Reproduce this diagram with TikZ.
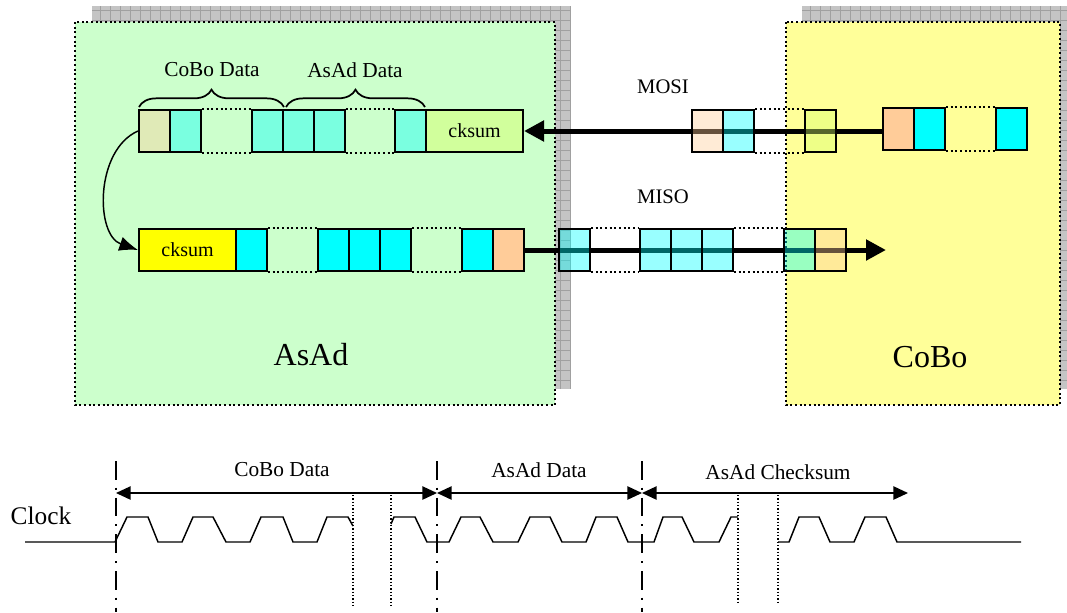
\documentclass[tikz,border=0pt]{standalone}
\usepackage{fontspec}
\setmainfont{Liberation Serif}
\usetikzlibrary{arrows.meta,decorations.pathreplacing}

\definecolor{boxgreen}{RGB}{204,255,204}
\definecolor{boxyellow}{RGB}{255,255,153}
\definecolor{shadowgray}{RGB}{196,196,196}
\definecolor{gridgray}{RGB}{160,160,160}
\definecolor{peach}{RGB}{255,204,153}
\definecolor{aqua}{RGB}{0,255,255}
\definecolor{sumyellow}{RGB}{255,255,0}
\definecolor{lime}{RGB}{214,255,110}

\tikzset{every picture/.style={line width=0.75pt}}
\tikzset{
  cell/.style={draw, line width=1.5pt, inner sep=0pt, minimum width=23.25pt, minimum height=31.5pt},
  wide/.style={cell, minimum width=72.75pt, font=\fontsize{15}{18}\selectfont},
  ghost/.style={cell, fill opacity=0.4, text opacity=1},
  gapline/.style={dotted, line width=1.5pt},
  bus/.style={line width=3.75pt, -{Triangle[length=15pt,width=15pt]}},
  span/.style={line width=1.1pt, {Triangle[length=11pt,width=10pt]}-{Triangle[length=11pt,width=10pt]}},
  markline/.style={line width=1.1pt, dash pattern=on 14pt off 6pt on 1.5pt off 6pt},
  cutline/.style={line width=0.9pt, dash pattern=on 1pt off 1.5pt},
  brace/.style={decorate, decoration={brace, amplitude=13pt}, line width=1.3pt},
  lbl/.style={inner sep=0.75pt, font=\fontsize{16}{19}\selectfont},
  big/.style={inner sep=0.75pt, font=\fontsize{24}{28}\selectfont}
}

\begin{document}
\begin{tikzpicture}[x=0.75pt,y=0.75pt,yscale=-1,xscale=1]
\useasboundingbox (0,0) rectangle (1067,612);
%Shape: Rectangle [shadow of AsAd]
\fill [shadowgray] (92,6) rectangle (571,389);
\begin{scope}
\clip (92,6) rectangle (571,389);
\draw [gridgray, line width=0.5pt, step=7.5pt] (92,6) grid (571,389);
\end{scope}
%Shape: Rectangle [shadow of CoBo]
\fill [shadowgray] (802,6) rectangle (1076,389);
\begin{scope}
\clip (802,6) rectangle (1076,389);
\draw [gridgray, line width=0.5pt, step=7.5pt] (802,6) grid (1076,389);
\end{scope}
%Shape: Rectangle [AsAd]
\draw [fill=boxgreen, dotted, line width=1.5pt] (75,22) rectangle (555,405);
%Shape: Rectangle [CoBo]
\draw [fill=boxyellow, dotted, line width=1.5pt] (786,22) rectangle (1060,405);

% Text Node
\node (asadname) [big] at (311,355) {AsAd};
% Text Node
\node (coboname) [big] at (930,357) {CoBo};
% Text Node
\node (mosi) [lbl, font=\fontsize{15.5}{18}\selectfont] at (663,87) {MOSI};
% Text Node
\node (miso) [lbl, font=\fontsize{15.5}{18}\selectfont] at (663,197) {MISO};
% Text Node
\node (cobodata) [lbl] at (212,70) {CoBo Data};
% Text Node
\node (asaddata) [lbl] at (355,70) {AsAd Data};

%Braces
\draw [brace] (139,107) -- (284,107);
\draw [brace] (286,107) -- (425,107);

%AsAd receive row
\node (t1) [ghost, fill=peach] at (154.5,131) {};
\node (t2) [ghost, fill=aqua] at (185.5,131) {};
\node (t3) [ghost, fill=aqua] at (267,131) {};
\node (t4) [ghost, fill=aqua] at (298,131) {};
\node (t5) [ghost, fill=aqua] at (329,131) {};
\node (t6) [ghost, fill=aqua] at (410.5,131) {};
\node (tck) [wide, fill=lime, fill opacity=0.5, text opacity=1] at (474.5,131) {cksum};
\draw [gapline] (t2.north east) -- (t3.north west);
\draw [gapline] (t2.south east) -- (t3.south west);
\draw [gapline] (t5.north east) -- (t6.north west);
\draw [gapline] (t5.south east) -- (t6.south west);

%AsAd send row
\node (bck) [wide, fill=sumyellow] at (187.5,250) {cksum};
\node (b2) [cell, fill=aqua] at (251.5,250) {};
\node (b3) [cell, fill=aqua] at (333.5,250) {};
\node (b4) [cell, fill=aqua] at (364.5,250) {};
\node (b5) [cell, fill=aqua] at (395.5,250) {};
\node (b6) [cell, fill=aqua] at (477.5,250) {};
\node (b7) [cell, fill=peach] at (508.5,250) {};
\draw [gapline] (b2.north east) -- (b3.north west);
\draw [gapline] (b2.south east) -- (b3.south west);
\draw [gapline] (b5.north east) -- (b6.north west);
\draw [gapline] (b5.south east) -- (b6.south west);

%CoBo send row
\node (c1) [cell, fill=peach] at (898.5,129) {};
\node (c2) [cell, fill=aqua] at (929.5,129) {};
\node (c3) [cell, fill=aqua] at (1011.5,129) {};
\draw [gapline] (c2.north east) -- (c3.north west);
\draw [gapline] (c2.south east) -- (c3.south west);

%Curve Lines
\draw [line width=1.1pt, -{Latex[length=14pt,width=11pt]}] (t1.west) .. controls (95,150) and (95,235) .. (bck.west);

%Straight Lines [MOSI]
\draw [bus] (c1.west |- tck.east) -- (tck.east);
%Straight Lines [MISO]
\coordinate (misoend) at (886,250);
\draw [bus] (b7.east) -- (misoend);

%MOSI words on the line
\node (m1) [ghost, fill=peach] at (707.5,131) {};
\node (m2) [ghost, fill=aqua] at (738.5,131) {};
\node (m3) [ghost, fill=lime] at (820.5,131) {};
\draw [gapline] (m2.north east) -- (m3.north west);
\draw [gapline] (m2.south east) -- (m3.south west);

%MISO words on the line
\node (s1) [ghost, fill=aqua] at (574.5,250) {};
\node (s2) [ghost, fill=aqua] at (655.5,250) {};
\node (s3) [ghost, fill=aqua] at (686.5,250) {};
\node (s4) [ghost, fill=aqua] at (717.5,250) {};
\node (s5) [ghost, fill=aqua] at (799.5,250) {};
\node (s6) [ghost, fill=peach] at (830.5,250) {};
\draw [gapline] (s1.north east) -- (s2.north west);
\draw [gapline] (s1.south east) -- (s2.south west);
\draw [gapline] (s4.north east) -- (s5.north west);
\draw [gapline] (s4.south east) -- (s5.south west);

%Timing
% Text Node
\node (clock) [lbl, font=\fontsize{19}{22}\selectfont] at (41,516) {Clock};
% Text Node
\node (cobospan) [lbl] at (282,470) {CoBo Data};
% Text Node
\node (asadspan) [lbl] at (539,470) {AsAd Data};
% Text Node
\node (cksumspan) [lbl] at (778,472) {AsAd Checksum};

%Straight Lines [phase marks]
\draw [markline] (116,461) -- (116,612);
\draw [markline] (437,461) -- (437,612);
\draw [markline] (642,461) -- (642,612);
%Straight Lines [cuts]
\draw [cutline] (353,495) -- (353,608);
\draw [cutline] (391,495) -- (391,608);
\draw [cutline] (738,495) -- (738,604);
\draw [cutline] (778,495) -- (778,604);

\coordinate (p0) at (116,493);
\coordinate (p1) at (437,493);
\coordinate (p2) at (642,493);
\coordinate (p3) at (908,493);
\draw [span] (p0) -- (p1);
\draw [span] (p1) -- (p2);
\draw [span] (p2) -- (p3);

%Clock wave
\draw [line width=1.1pt] (25,542) -- (115,542) -- (127,517) -- (148,517) -- (158,542) -- (182,542) -- (193,517) -- (213,517) -- (226,542) -- (250,542) -- (261,517) -- (283,517) -- (293,542) -- (317,542) -- (327,517) -- (348,517) -- (353,526) ;
\draw [line width=1.1pt] (391,524) -- (394,517) -- (415,517) -- (427,542) -- (449,542) -- (461,517) -- (480,517) -- (493,542) -- (518,542) -- (530,517) -- (550,517) -- (562,542) -- (586,542) -- (596,517) -- (617,517) -- (628,542) -- (654,542) -- (663,517) -- (682,517) -- (694,542) -- (719,542) -- (731,517) -- (738,517) ;
\draw [line width=1.1pt] (778,542) -- (789,542) -- (799,517) -- (819,517) -- (830,542) -- (854,542) -- (865,517) -- (886,517) -- (897,542) -- (1021,542) ;
\end{tikzpicture}
\end{document}
